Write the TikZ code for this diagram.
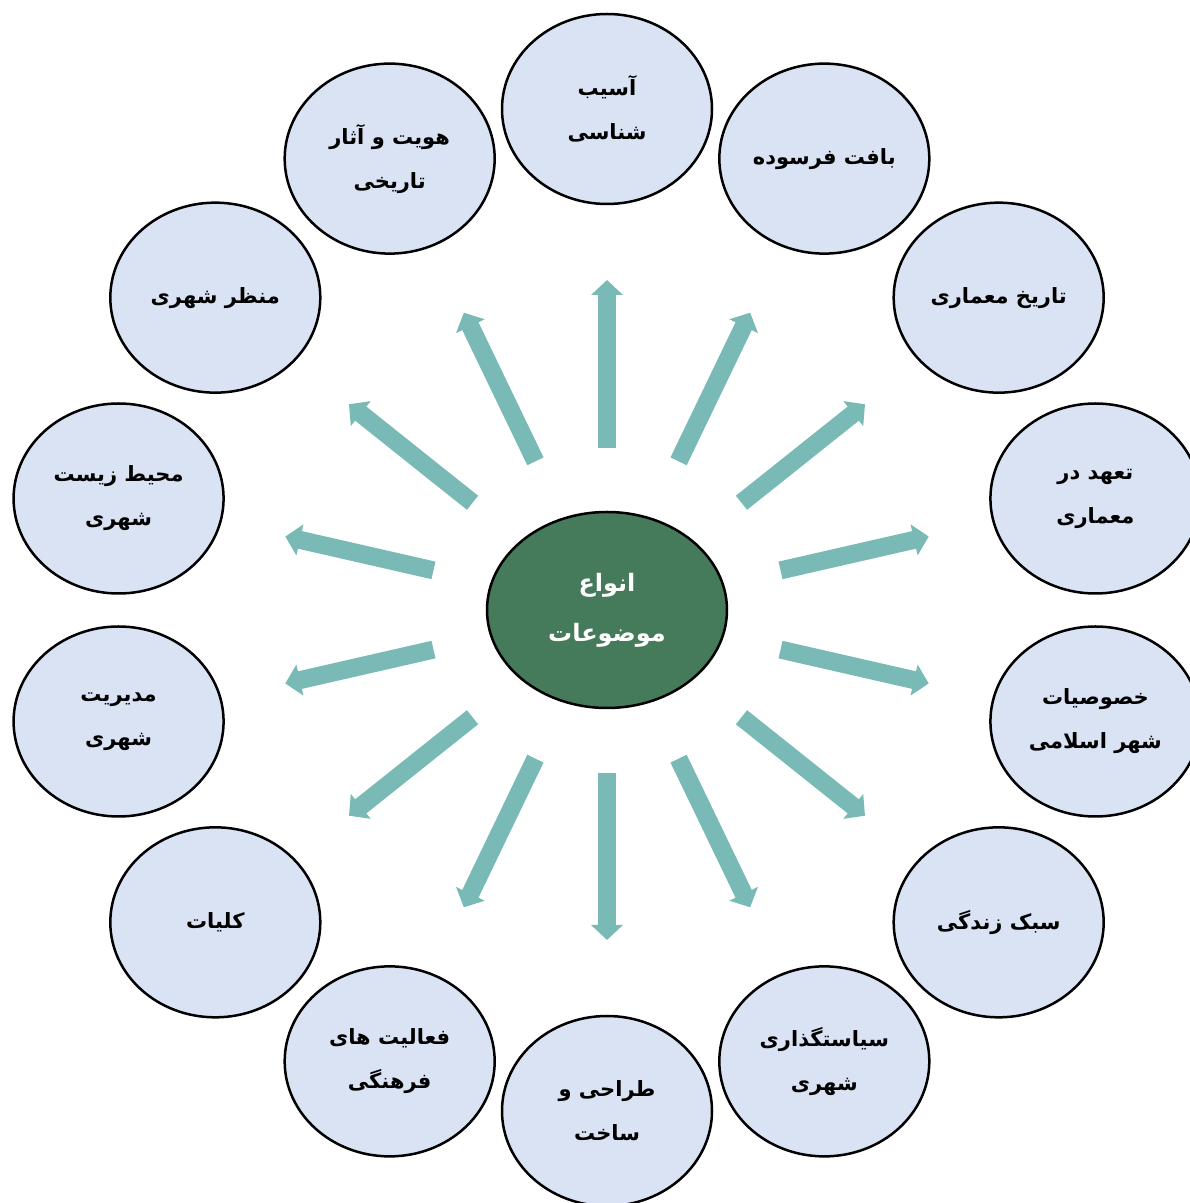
\documentclass[tikz,border=0pt]{standalone}
\usepackage{fontspec}
\TeXXeTstate=1
\newfontfamily\arabicfont[Script=Arabic]{DejaVu Sans}
\usetikzlibrary{shapes.geometric,arrows.meta,calc}
\definecolor{bubble}{HTML}{DAE3F3}
\definecolor{hubgreen}{HTML}{457A5A}
\definecolor{spokec}{HTML}{7ABAB6}
\newcommand\fa[1]{\beginR #1\endR}
\tikzset{
  topic/.style={ellipse, draw=black, line width=2.5pt, fill=bubble,
    minimum width=210pt, minimum height=190pt, inner sep=0pt, align=center,
    font=\arabicfont\bfseries\fontsize{21}{44}\selectfont},
  hubnode/.style={ellipse, draw=black, line width=2.5pt, fill=hubgreen,
    minimum width=240pt, minimum height=196pt, inner sep=0pt, align=center,
    text=white, font=\arabicfont\bfseries\fontsize{24}{50}\selectfont},
  spoke/.style={draw=spokec, line width=18pt, -{Triangle[width=31pt,length=15pt,fill=spokec]}}
}
\begin{document}
\begin{tikzpicture}[x=1pt,y=1pt]
\useasboundingbox (0,0) rectangle (1190,1203);
\coordinate (C) at (607,593);
\node[hubnode] (hub) at (C) {\fa{انواع}\\\fa{موضوعات}};
\node[topic] (t0) at ($(C)+(90:501)$) {\fa{آسیب}\\\fa{شناسی}};
\node[topic] (t1) at ($(C)+(64.29:501)$) {\fa{بافت فرسوده}};
\node[topic] (t2) at ($(C)+(38.57:501)$) {\fa{تاریخ معماری}};
\node[topic] (t3) at ($(C)+(12.86:501)$) {\fa{تعهد در}\\\fa{معماری}};
\node[topic] (t4) at ($(C)+(-12.86:501)$) {\fa{خصوصیات}\\\fa{شهر اسلامی}};
\node[topic] (t5) at ($(C)+(-38.57:501)$) {\fa{سبک زندگی}};
\node[topic] (t6) at ($(C)+(-64.29:501)$) {\fa{سیاستگذاری}\\\fa{شهری}};
\node[topic] (t7) at ($(C)+(-90:501)$) {\fa{طراحی و}\\\fa{ساخت}};
\node[topic] (t8) at ($(C)+(-115.71:501)$) {\fa{فعالیت های}\\\fa{فرهنگی}};
\node[topic] (t9) at ($(C)+(-141.43:501)$) {\fa{کلیات}};
\node[topic] (t10) at ($(C)+(-167.14:501)$) {\fa{مدیریت}\\\fa{شهری}};
\node[topic] (t11) at ($(C)+(167.14:501)$) {\fa{محیط زیست}\\\fa{شهری}};
\node[topic] (t12) at ($(C)+(141.43:501)$) {\fa{منظر شهری}};
\node[topic] (t13) at ($(C)+(115.71:501)$) {\fa{هویت و آثار}\\\fa{تاریخی}};
\foreach \a/\r [count=\i] in {90/162, 64.29/165, 38.57/172, 12.86/178,
    -12.86/178, -38.57/172, -64.29/165, -90/163, -115.71/165, -141.43/172,
    -167.14/178, 167.14/178, 141.43/172, 115.71/165} {
  \coordinate (s\i) at ($(C)+(\a:\r)$);
  \coordinate (e\i) at ($(C)+(\a:330)$);
  \draw[spoke] (s\i) -- (e\i);
}
\end{tikzpicture}
\end{document}
